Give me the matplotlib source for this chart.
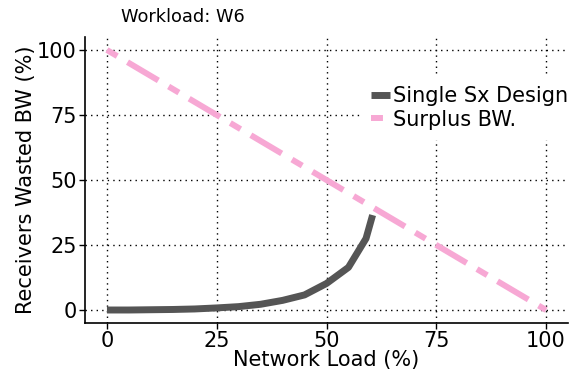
import numpy as np
import matplotlib.pyplot as plt

plt.rcParams['font.family'] = ['DejaVu Sans']

# network load (%) vs receivers' wasted bandwidth (%)
load_sx = [0, 5, 10, 15, 20, 25, 30, 35, 40, 45, 50, 55, 59, 60.5]
wasted_sx = [0, 0, 0.1, 0.2, 0.4, 0.8, 1.3, 2.2, 3.7, 5.8, 10.2, 16.4, 27.5, 36.5]

load_surplus = [0, 100]
surplus_bw = [100, 0]

ticks = [0, 25, 50, 75, 100]

fig = plt.figure(figsize=(5.77, 3.76), dpi=100)
ax = fig.add_axes([85 / 577, 53 / 376, 483 / 577, 286 / 376])

ax.plot(load_sx, wasted_sx, color='#555555', lw=5, solid_capstyle='butt',
        label='Single Sx Design', zorder=3)
# R-style "twodash" pattern
ax.plot(load_surplus, surplus_bw, color='#F7A8D4', lw=4.3,
        ls=(0, (2, 2, 6, 2)), dash_capstyle='butt',
        label='Surplus BW.', zorder=2)

ax.set_xlim(-5, 105)
ax.set_ylim(-5, 105)
ax.set_xticks(ticks)
ax.set_yticks(ticks)
ax.grid(True, color='black', ls=(0, (1, 3)), lw=1)
for s in ['top', 'right']:
    ax.spines[s].set_visible(False)
for s in ['left', 'bottom']:
    ax.spines[s].set_linewidth(1.2)
ax.tick_params(labelsize=15, length=4, width=1, pad=2)
ax.set_xlabel('Network Load (%)', fontsize=15, labelpad=-1)
ax.set_ylabel('Receivers Wasted BW (%)', fontsize=15, labelpad=1)

fig.text(121 / 577, 1 - 17 / 376, 'Workload: W6', fontsize=12.8, va='center', ha='left')

# white legend box without border, hides the grid behind it
leg = ax.legend(loc='upper left', bbox_to_anchor=(361 / 577, 1 - 76 / 376),
                bbox_transform=fig.transFigure, frameon=True, fancybox=False,
                facecolor='white', edgecolor='none', framealpha=1, fontsize=15,
                handlelength=0.87, handletextpad=0.15, labelspacing=0.15,
                borderpad=0.5, borderaxespad=0)

fig.savefig('out.png', dpi=100)
